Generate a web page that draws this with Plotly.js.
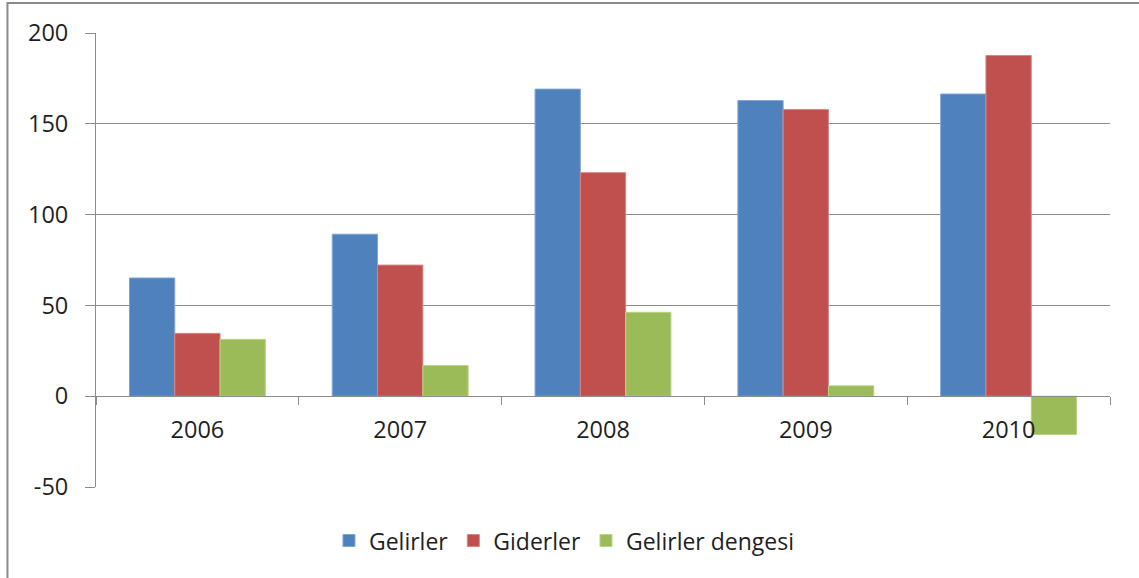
<!DOCTYPE html>
<html>
<head>
<meta charset="utf-8">
<script src="https://cdn.plot.ly/plotly-3.0.1.min.js"></script>
<style>
html,body{margin:0;padding:0;background:#fff;}
#chart{width:1139px;height:578px;}
</style>
</head>
<body>
<div id="chart"></div>
<script>
const years = ['2006', '2007', '2008', '2009', '2010'];
const gelirler = [65.1, 89.2, 169.1, 162.8, 166.4];
const giderler = [34.6, 72.2, 123.1, 157.9, 187.6];
const dengesi = [31.3, 16.9, 46.2, 5.7, -21.1];
const seriesNames = ['Gelirler', 'Giderler', 'Gelirler dengesi'];
const yTicks = [-50, 0, 50, 100, 150, 200];

const FONT = 'Open Sans, sans-serif';
const TXT = '#1f1f1f';
const GRID = '#8c8c8c';

function bar(name, y, color, edge) {
  return {
    type: 'bar', name: name, x: years, y: y,
    marker: {color: color, line: {color: edge, width: 1}},
    hoverinfo: 'x+y'
  };
}

const data = [
  bar(seriesNames[0], gelirler, '#4F81BD', '#7fa6d6'),
  bar(seriesNames[1], giderler, '#C0504D', '#d98582'),
  bar(seriesNames[2], dengesi, '#9BBB59', '#b9d486')
];

const layout = {
  width: 1139, height: 578,
  margin: {l: 96, r: 29, t: 33, b: 91, pad: 0},
  paper_bgcolor: '#ffffff', plot_bgcolor: '#ffffff',
  font: {family: FONT, size: 23, color: TXT},
  barmode: 'group', bargap: 0.33, bargroupgap: 0,
  showlegend: true,
  legend: {
    orientation: 'h', x: 0.462, xanchor: 'center', y: -0.118, yanchor: 'middle',
    font: {family: FONT, size: 23, color: TXT}, traceorder: 'normal',
    itemwidth: 30
  },
  xaxis: {
    type: 'category', anchor: 'free', position: 0.2,
    showgrid: false, zeroline: false,
    showline: true, linecolor: GRID, linewidth: 1,
    ticks: 'outside', tickson: 'boundaries', ticklen: 8, tickcolor: GRID, tickwidth: 1,
    ticklabelstandoff: 13,
    tickfont: {family: FONT, size: 23.5, color: TXT}
  },
  yaxis: {
    range: [-50, 200], tickvals: yTicks, ticktext: yTicks.map(String),
    showgrid: true, gridcolor: GRID, gridwidth: 1,
    zeroline: false,
    showline: true, linecolor: GRID, linewidth: 1,
    ticks: 'outside', ticklen: 10, tickcolor: GRID, tickwidth: 1,
    ticklabelstandoff: 12,
    tickfont: {family: FONT, size: 23.5, color: TXT}
  },
  shapes: [{
    type: 'rect', xref: 'paper', yref: 'paper',
    x0: -0.0873, x1: 1.04, y0: -0.25, y1: 1.0662,
    line: {color: '#8a8a8a', width: 2}, fillcolor: 'rgba(0,0,0,0)', layer: 'below'
  }]
};

Plotly.newPlot('chart', data, layout, {staticPlot: true, displayModeBar: false});
</script>
</body>
</html>
